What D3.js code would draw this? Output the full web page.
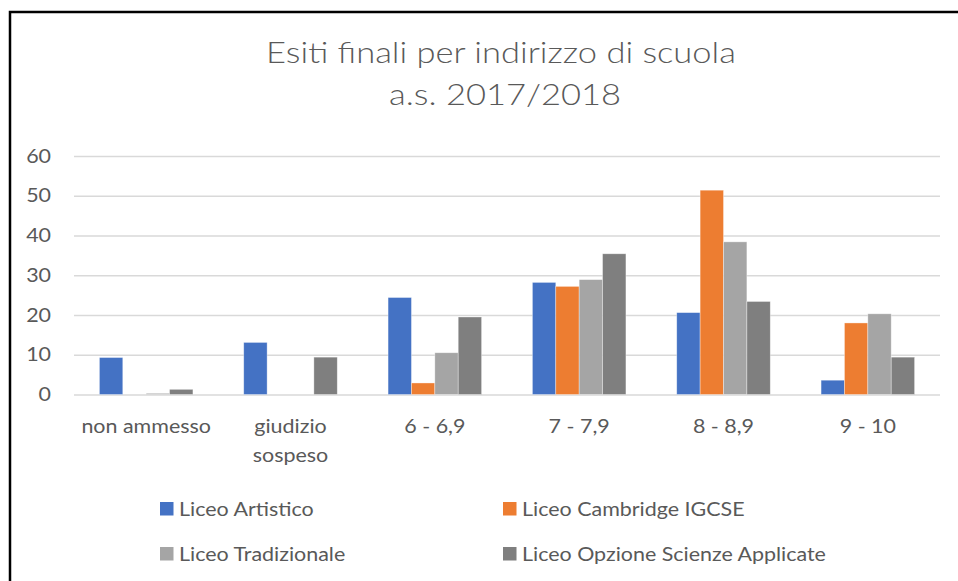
<!DOCTYPE html>
<html>
<head>
<meta charset="utf-8">
<script src="https://cdn.jsdelivr.net/npm/d3@7"></script>
<style>
  body { margin: 0; background: #fff; }
  text { font-family: Lato, "Open Sans", sans-serif; fill: #595959; }
</style>
</head>
<body>
<svg width="958" height="581"></svg>
<script>
var categories = ["non ammesso", "giudizio sospeso", "6 - 6,9", "7 - 7,9", "8 - 8,9", "9 - 10"];
var seriesNames = ["Liceo Artistico", "Liceo Cambridge IGCSE", "Liceo Tradizionale", "Liceo Opzione Scienze Applicate"];
var artistico = [9.3, 13.1, 24.4, 28.2, 20.6, 3.6];
var cambridge = [0, 0, 2.9, 27.2, 51.4, 18.0];
var tradizionale = [0.3, 0, 10.5, 28.9, 38.4, 20.3];
var scienze = [1.3, 9.4, 19.5, 35.4, 23.4, 9.4];
var yTicks = [0, 10, 20, 30, 40, 50, 60];
var colors = ["#4472C4", "#ED7D31", "#A5A5A5", "#7F7F7F"];

var allSeries = [artistico, cambridge, tradizionale, scienze];

var svg = d3.select("svg"),
    width = +svg.attr("width"),
    height = +svg.attr("height");

// the reference text is a bit wider than Lato, stretch it horizontally
function label(parent, x, y, str, size, anchor, sx) {
  var g = parent.append("g")
      .attr("transform", "translate(" + x + "," + y + ") scale(" + (sx || 1.16) + ",1)");
  return g.append("text")
      .attr("text-anchor", anchor || "start")
      .attr("font-size", size)
      .text(str);
}

// chart frame
svg.append("rect")
    .attr("x", 10).attr("y", 12)
    .attr("width", 1000).attr("height", 700)
    .attr("fill", "#fff")
    .attr("stroke", "#000")
    .attr("stroke-width", 2.5);

// title
label(svg, 501, 63, "Esiti finali per indirizzo di scuola", 29, "middle", 1.19).attr("font-weight", 300);
label(svg, 505, 105, "a.s. 2017/2018", 29, "middle", 1.19).attr("font-weight", 300);

var plot = { left: 74, right: 940, top: 156, bottom: 394.5 };

var x = d3.scaleBand()
    .domain(categories)
    .range([plot.left, plot.right])
    .paddingInner(0.352)
    .paddingOuter(0.176);

var xs = d3.scaleBand()
    .domain(seriesNames)
    .range([0, x.bandwidth()]);

var y = d3.scaleLinear()
    .domain([0, 60])
    .range([plot.bottom, plot.top]);

// gridlines
var yAxis = svg.append("g")
    .attr("transform", "translate(" + plot.left + ",0)")
    .call(d3.axisLeft(y).tickValues(yTicks).tickSize(-(plot.right - plot.left)).tickFormat(""));
yAxis.select(".domain").remove();
yAxis.selectAll(".tick line").attr("stroke", "#d9d9d9").attr("stroke-width", 1.4);

// y labels
var yl = svg.append("g");
yTicks.forEach(function(t) {
  label(yl, 51, y(t) + 6.5, t, 18.5, "end");
});

// bars
var groups = svg.append("g").selectAll("g")
    .data(categories)
    .enter().append("g")
    .attr("transform", function(d) { return "translate(" + x(d) + ",0)"; });

groups.selectAll("rect")
    .data(function(d, i) {
      return seriesNames.map(function(s, j) { return { series: s, idx: j, value: allSeries[j][i] }; });
    })
    .enter().append("rect")
    .filter(function(d) { return d.value > 0; })
    .attr("x", function(d) { return xs(d.series); })
    .attr("y", function(d) { return y(d.value); })
    .attr("width", xs.bandwidth())
    .attr("height", function(d) { return y(0) - y(d.value); })
    .attr("fill", function(d) { return colors[d.idx]; })
    .attr("stroke", "#fff")
    .attr("stroke-opacity", 0.5)
    .attr("stroke-width", 0.7);

// x labels (wrapped)
var xl = svg.append("g");
categories.forEach(function(d) {
  var cx = x(d) + x.bandwidth() / 2;
  var lines = d == "giudizio sospeso" ? ["giudizio", "sospeso"] : [d];
  lines.forEach(function(l, k) {
    label(xl, cx, 433 + k * 29, l, 18.5, "middle");
  });
});

// legend
var legendPos = [[160, 502], [503, 502], [160, 547], [503, 547]];
var legend = svg.append("g");
seriesNames.forEach(function(s, i) {
  legend.append("rect")
      .attr("x", legendPos[i][0]).attr("y", legendPos[i][1])
      .attr("width", 13.5).attr("height", 13.5)
      .attr("fill", colors[i]);
  label(legend, legendPos[i][0] + 19, legendPos[i][1] + 14, s, 18.5);
});
</script>
</body>
</html>
